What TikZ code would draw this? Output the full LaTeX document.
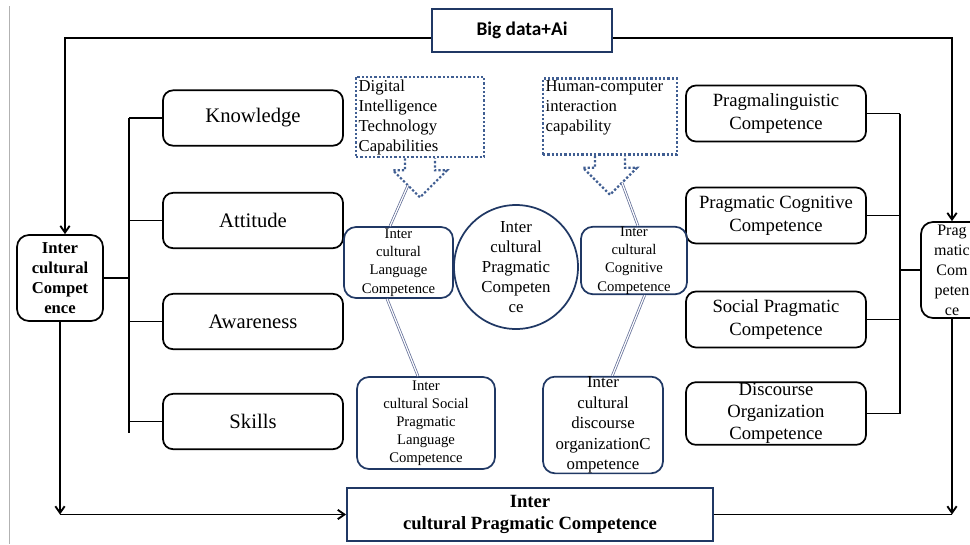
\documentclass[tikz,border=0pt]{standalone}
\usepackage{fontspec}
\setmainfont{Liberation Serif}
\newfontfamily\bigdatafont{Carlito}
\usetikzlibrary{arrows.meta,calc}
\definecolor{boxnavy}{RGB}{32,56,100}
\definecolor{dotblue}{RGB}{64,94,146}
\definecolor{linkgray}{RGB}{96,108,150}

\begin{document}
\begin{tikzpicture}[x=0.75pt, y=-0.75pt,
  blackbox/.style={draw=black, line width=1.3pt, rounded corners=7.5pt, align=center, inner sep=0pt},
  leftbox/.style={blackbox, minimum width=135pt, minimum height=41.5pt, font=\fontsize{15.5}{19}\selectfont},
  rightbox/.style={blackbox, minimum width=135pt, minimum height=42pt, font=\fontsize{14}{17}\selectfont},
  navybox/.style={draw=boxnavy, line width=1.3pt, rounded corners=9pt, align=center, inner sep=0pt},
  dotline/.style={draw=dotblue, line width=1.7pt, dash pattern=on 1.7pt off 1.5pt},
  dotbox/.style={dotline, align=left, inner sep=2pt, minimum height=55.5pt, font=\fontsize{12.5}{15}\selectfont},
  conn/.style={black, line width=1.4pt},
  arr/.style={-{Straight Barb[length=5pt,width=7pt]}},
  dbl/.style={draw=linkgray, line width=0.55pt, double=white, double distance=0.9pt}]
  \useasboundingbox (0,0) rectangle (970,544);
  \draw[gray!60, line width=0.6pt] (9,6) -- (9,544);

  % outer frame
  \node[draw=boxnavy, line width=1.5pt, minimum width=135pt, minimum height=32pt, font=\bigdatafont\bfseries\fontsize{14.5}{17}\selectfont] (BigData) at (522,30.5) {Big data+Ai};
  \node[blackbox, rounded corners=9pt, minimum width=64.5pt, minimum height=64.5pt, font=\bfseries\fontsize{12.5}{15}\selectfont] (InterComp) at (60,278) {Inter\\cultural\\Compet\\ence};
  \node[blackbox, rounded corners=9pt, minimum width=46.5pt, minimum height=72pt, font=\fontsize{12}{15}\selectfont] (PragComp) at (952,270) {Prag\\matic\\Com\\peten\\ce};
  \node[draw=boxnavy, line width=1.4pt, minimum width=274.5pt, minimum height=39.75pt, align=center, inner sep=0pt, font=\bfseries\fontsize{14}{16.5}\selectfont] (IPC) at (530,514.5) {Inter\\cultural Pragmatic Competence};

  % left column
  \foreach \name/\y in {Knowledge/118, Attitude/220.5, Awareness/321.5, Skills/421.5}
    \node[leftbox] (\name) at (253,\y) {\name};

  % right column
  \node[rightbox] (PragLing) at (776,113.5) {Pragmalinguistic\\Competence};
  \node[rightbox] (PragCog) at (776,215.5) {Pragmatic Cognitive\\Competence};
  \node[rightbox] (SocPrag) at (776,319.5) {Social Pragmatic\\Competence};
  \node[rightbox, minimum height=47pt, font=\fontsize{14}{16.5}\selectfont] (DiscOrg) at (776,413.5) {Discourse\\Organization\\Competence};

  % buses
  \coordinate (LeftBus) at (129,433);
  \coordinate (RightBus) at (900,0);
  \foreach \name in {Knowledge, Attitude, Awareness, Skills}
    \draw[conn] (\name.west) -- (\name.west -| LeftBus);
  \draw[conn] (Knowledge.west -| LeftBus) -- (LeftBus);
  \draw[conn] (InterComp.east) -- (InterComp.east -| LeftBus);
  \foreach \name in {PragLing, PragCog, SocPrag, DiscOrg}
    \draw[conn] (\name.east) -- (\name.east -| RightBus);
  \draw[conn] (PragLing.east -| RightBus) -- (DiscOrg.east -| RightBus);
  \draw[conn] (RightBus |- PragComp.west) -- (PragComp.west);

  % outer arrows
  \draw[conn, arr] ([yshift=-5.6pt]BigData.west) -| ([xshift=3.75pt]InterComp.north);
  \draw[conn, arr] ([yshift=-5.6pt]BigData.east) -| (PragComp.north);
  \coordinate (LeftCorner) at (InterComp.south |- IPC.west);
  \coordinate (RightCorner) at (PragComp.south |- IPC.east);
  \draw[conn, arr] (InterComp.south) -- (LeftCorner);
  \draw[conn, arr] (LeftCorner) -- (IPC.west);
  \draw[conn] (IPC.east) -- (RightCorner);
  \draw[conn, arr] (PragComp.south) -- (RightCorner);

  % capabilities
  \node[dotbox, text width=92pt] (DigTech) at (420,117) {Digital\\Intelligence\\Technology\\Capabilities};
  \node[dotbox, text width=96.5pt] (HumComp) at (610,116.5) {Human-computer\\interaction\\capability\\~};
  \foreach \cap in {DigTech, HumComp}
    \draw[dotline] ($(\cap.south)+(-15,0)$) -- ++(0,12) -- ++(-12,0) -- ($(\cap.south)+(0,39)$)
      -- ($(\cap.south)+(27,12)$) -- ++(-12,0) -- ++(0,-12);
  \coordinate (DigJoin) at ($(DigTech.south)+(-12,27)$);
  \coordinate (HumJoin) at ($(HumComp.south)+(12,27)$);

  % inner ring
  \node[navybox, minimum width=81.75pt, minimum height=53.25pt, font=\fontsize{11}{13.7}\selectfont] (ICLang) at (398.5,262.5) {Inter\\cultural\\Language\\Competence};
  \node[draw=boxnavy, line width=1.3pt, circle, minimum size=93pt, inner sep=0pt, align=center, font=\fontsize{12.6}{15}\selectfont] (ICPrag) at (516,267) {Inter\\cultural\\Pragmatic\\Competen\\ce};
  \node[navybox, minimum width=79.5pt, minimum height=50.25pt, font=\fontsize{11}{13.7}\selectfont] (ICCog) at (634,260.5) {Inter\\cultural\\Cognitive\\Competence};
  \node[navybox, minimum width=103.5pt, minimum height=69pt, font=\fontsize{11}{13.5}\selectfont] (ICSocial) at (426,423) {Inter\\cultural Social\\Pragmatic\\Language\\Competence};
  \node[navybox, minimum width=90pt, minimum height=72pt, font=\fontsize{12.6}{15.4}\selectfont] (ICDisc) at (603,425) {Inter\\cultural\\discourse\\organizationC\\ompetence};

  \draw[dbl] ([yshift=-6pt]DigTech.east) -- ([yshift=-6pt]DigTech.east -| HumComp.west);
  \draw[dbl] ([xshift=-6.4pt]ICLang.north) -- (DigJoin);
  \draw[dbl] ([xshift=3pt]ICCog.north) -- (HumJoin);
  \draw[dbl] ([xshift=-8.6pt]ICLang.south) -- ([xshift=-6pt]ICSocial.north);
  \draw[dbl] ([xshift=8pt]ICCog.south) -- ([xshift=7pt]ICDisc.north);
  \draw[dbl] ([yshift=10.5pt]ICSocial.east) -- ([yshift=10.5pt]ICSocial.east -| ICDisc.west);
\end{tikzpicture}
\end{document}
